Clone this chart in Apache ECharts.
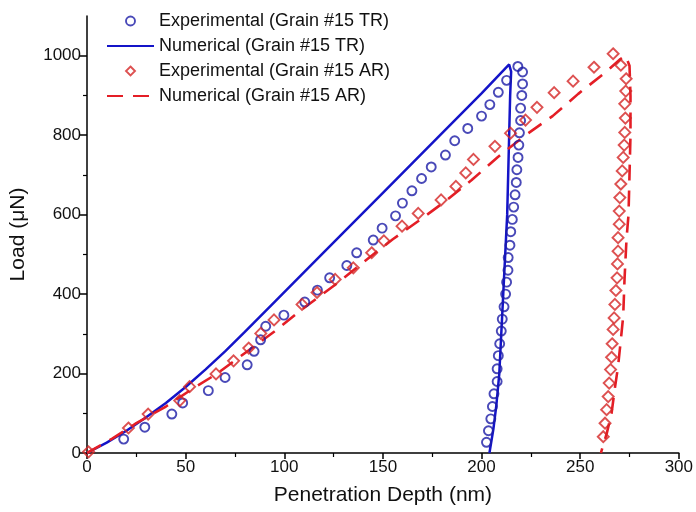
<!DOCTYPE html>
<html>
<head>
<meta charset="utf-8">
<script src="https://cdn.jsdelivr.net/npm/echarts@6/dist/echarts.min.js"></script>
<style>html,body{margin:0;padding:0;background:#fff}#c{width:696px;height:512px}</style>
</head>
<body>
<div id="c"></div>
<script>
const seriesNames = ['Experimental (Grain #15 TR)', 'Numerical (Grain #15 TR)', 'Experimental (Grain #15 AR)', 'Numerical (Grain #15 AR)'];
const xTitle = 'Penetration Depth (nm)';
const yTitle = 'Load (\u03bcN)';
const yLabelTicks = [0, 200, 400, 600, 800, 1000];
const yMinorTicks = [100, 300, 500, 700, 900];

const expTR = [
 [18.6,35],[29.3,65],[43,98],[48.5,126],[61.5,157],[70,190],[81.2,222],[84.7,256],[88,285],[90.6,319],
 [99.8,347],[110.4,380],[116.8,410],[123,441],[131.7,472],[136.7,504],[145.1,536],[149.6,566],[156.4,597],
 [159.9,629],[164.7,660],[169.6,691],[174.5,720],[181.7,750],[186.4,786],[193,817],[200,848],[204.2,877],
 [208.5,908],[212.7,938],[218.4,973],
 [220.8,959],[220.8,929],[220.4,900],[219.8,868],[219.8,837],[219.2,806],[218.9,775],[218.5,744],[217.9,713],
 [217.6,681],[217.0,650],[216.3,619],[215.6,588],[214.8,557],[214.4,523],[213.5,492],[213.4,460],[212.7,430],
 [212.2,400],[211.4,368],[210.5,337],[210,307],[209.2,275],[208.5,245],[207.9,212],[207.9,180],[206.3,149],
 [205.5,117],[204.7,86],[203.5,56],[202.5,27]
];
const numTR = [
 [0,0],[10,26],[20,56],[30,90],[40,126],[50,166],[60,210],[70,256],[80,305],[95,380],[120,505],[150,655],
 [180,805],[200,905],[214,978],
 [215,960],[214.5,900],[214,800],[213.5,700],[213,600],[212,500],[211,400],[210,300],[209,200],[207.5,120],
 [206,60],[204,0]
];
const expAR = [
 [0.8,3],[21,63],[31,98],[47,132],[52,167],[65.4,199],[74.3,232],[82,264],[88.1,301],[94.8,335],[109,374],
 [116.6,404],[125.8,437],[135,466],[144.3,504],[150.5,534],[159.7,571],[167.9,603],[179.5,637],[187,671],
 [192,705],[195.9,739],[206.8,772],[214.7,805],[222.3,838],[228.1,870],[236.8,907],[246.4,936],[257,971],
 [266.7,1005],
 [270.6,976],[273.3,942],[273.1,911],[272.6,879],[272.9,843],[272.6,807],[272.3,775],[271.8,744],[271.3,710],
 [270.6,677],[270.1,643],[269.8,609],[269.8,576],[269.2,542],[269.2,508],[268.9,476],[268.7,441],[268.1,409],
 [267.6,374],[267.2,340],[266.7,311],[266.2,275],[265.9,241],[265.4,210],[264.7,176],[264.2,142],[263.4,109],
 [262.6,75],[261.7,41]
];
const numAR = [
 [0,0],[13,37],[25,75],[40,117],[53,160],[66,200],[81,255],[95,306],[107,354],[117,391],[127,428],[140,480],
 [155,538],[168,584],[182,635],[195,687],[208,744],[222,799],[236,848],[249,904],[263,959],[270,990],[273,1000],
 [275,975],[275.5,900],[275.5,800],[275,700],[274.5,600],[273.5,540],[272.5,440],[271.8,344],[270.5,280],
 [269.2,218],[267.5,160],[265.9,100],[263.5,50],[260.5,0]
];

const BLUE_M = '#1c1ca6', BLUE_L = '#1414c8', RED_M = '#d42626', RED_L = '#e41e26';
const FONT = 'Liberation Sans';
const CLEAR = 'rgba(255,255,255,0)';
const DIAMOND_ICON = 'path://M5,0L10,5L5,10L0,5Z';

const chart = echarts.init(document.getElementById('c'), null, {renderer: 'canvas'});
chart.setOption({
  backgroundColor: '#fff',
  animation: false,
  textStyle: {fontFamily: FONT},
  grid: {left: 85, right: 15, top: 16, bottom: 59, containLabel: false},
  legend: {
    orient: 'vertical', left: 106, top: 12, padding: 0,
    itemWidth: 47, itemHeight: 9, itemGap: 7, symbolKeepAspect: true,
    textStyle: {fontFamily: FONT, fontSize: 18, color: '#111'},
    data: [
      {name: seriesNames[0], icon: 'circle', itemStyle: {color: CLEAR, borderColor: BLUE_M, borderWidth: 1.9}},
      {name: seriesNames[1], itemStyle: {color: CLEAR, borderColor: CLEAR, borderWidth: 0, opacity: 0}},
      {name: seriesNames[2], icon: DIAMOND_ICON, itemStyle: {color: CLEAR, borderColor: RED_M, borderWidth: 1.9}},
      {name: seriesNames[3], itemStyle: {color: CLEAR, borderColor: CLEAR, borderWidth: 0, opacity: 0}}
    ]
  },
  xAxis: {
    type: 'value', min: 0, max: 300, interval: 50,
    name: xTitle, nameLocation: 'middle', nameGap: 32,
    nameTextStyle: {fontFamily: FONT, fontSize: 21, color: '#111'},
    axisLine: {show: true, lineStyle: {color: '#000', width: 1.5}},
    axisTick: {show: true, length: 6, lineStyle: {color: '#000', width: 1.5}},
    minorTick: {show: true, splitNumber: 2, length: 4, lineStyle: {color: '#000', width: 1.2}},
    axisLabel: {fontFamily: FONT, fontSize: 17, color: '#111', margin: 6, formatter: v => String(v)},
    splitLine: {show: false}
  },
  yAxis: [{
    type: 'value', min: 0, max: 1100, interval: 100,
    name: yTitle, nameLocation: 'middle', nameGap: 58,
    nameTextStyle: {fontFamily: FONT, fontSize: 21, color: '#111'},
    axisLine: {show: true, lineStyle: {color: '#000', width: 1.5}},
    axisTick: {show: true, length: 7, customValues: yLabelTicks, lineStyle: {color: '#000', width: 1.5}},
    axisLabel: {fontFamily: FONT, fontSize: 17, color: '#111', margin: 6, customValues: yLabelTicks, formatter: v => String(v)},
    splitLine: {show: false}
  }, {
    type: 'value', min: 0, max: 1100, interval: 100, position: 'left',
    axisLine: {show: false},
    axisTick: {show: true, length: 4, customValues: yMinorTicks, lineStyle: {color: '#000', width: 1.2}},
    axisLabel: {show: false},
    splitLine: {show: false}
  }],
  series: [
    {name: seriesNames[1], type: 'line', data: numTR, symbol: 'none', showSymbol: false,
     lineStyle: {color: BLUE_L, width: 2.5}, itemStyle: {color: BLUE_L}, z: 2},
    {name: seriesNames[3], type: 'line', data: numAR, symbol: 'none', showSymbol: false,
     lineStyle: {color: RED_L, width: 2.6, type: [16, 10]}, itemStyle: {color: RED_L}, z: 2},
    {name: seriesNames[0], type: 'scatter', data: expTR, symbol: 'circle', symbolSize: 9,
     itemStyle: {color: CLEAR, borderColor: BLUE_M, borderWidth: 1.9}, z: 3},
    {name: seriesNames[2], type: 'scatter', data: expAR, symbol: 'diamond', symbolSize: 11,
     itemStyle: {color: CLEAR, borderColor: RED_M, borderWidth: 1.9}, z: 3}
  ]
});
</script>
</body>
</html>
